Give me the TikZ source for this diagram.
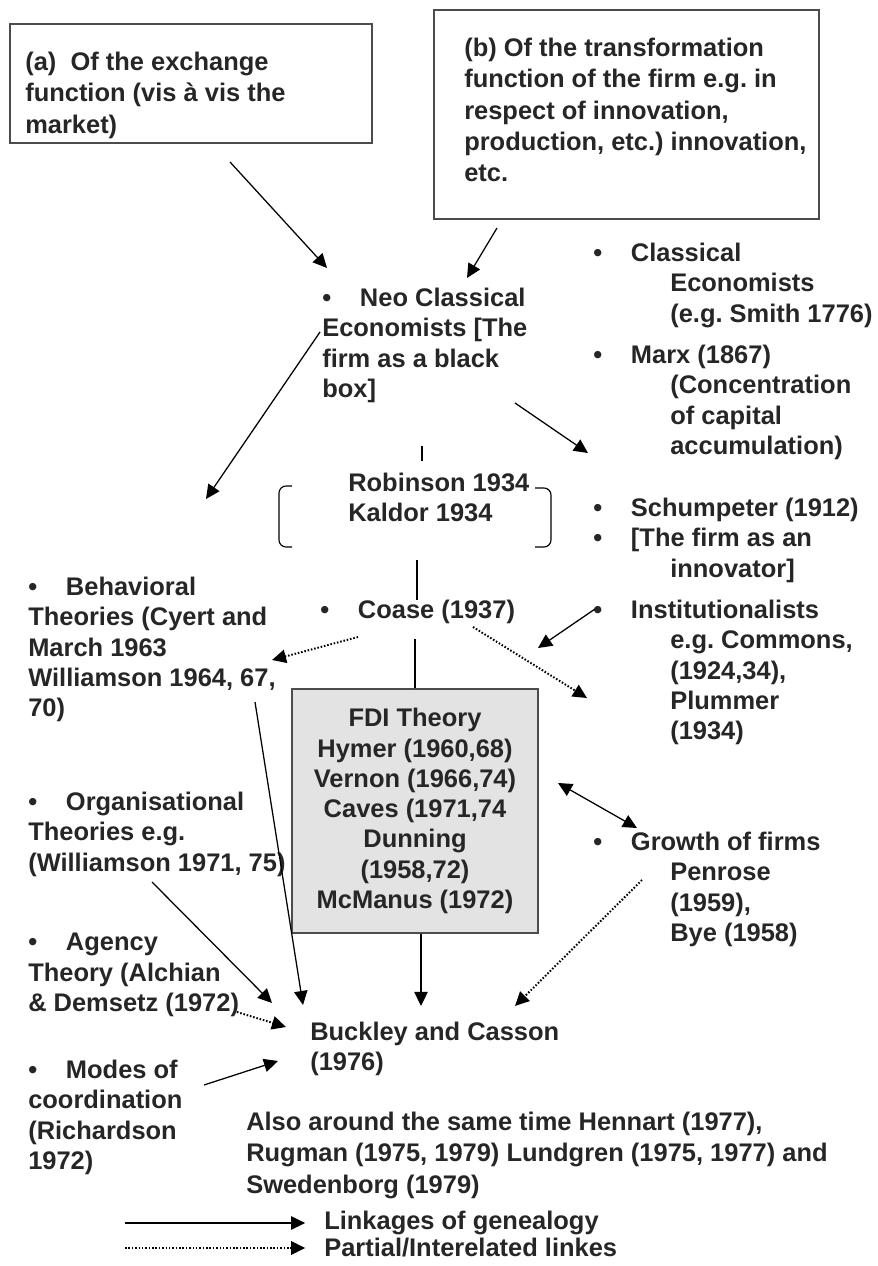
\documentclass[tikz,border=0pt]{standalone}
\usepackage{fontspec}
\setmainfont{Liberation Sans}
\usetikzlibrary{arrows.meta}
\frenchspacing

\newcommand\bodyfnt{\fontsize{18.1}{21.5}\selectfont\bfseries}
\newcommand\boxfnt{\fontsize{18.1}{22.2}\selectfont\bfseries}
\newcommand\bulitem{\textbullet\hspace{0.72cm}}
\newcommand\indcol{\hspace*{1.925cm}}

\tikzset{
  link/.style={line width=0.9pt, -{Triangle[length=10pt,width=9.5pt]}},
  partial/.style={link, line width=1.4pt, dash pattern=on 1.1pt off 1.3pt},
  twoway/.style={line width=0.9pt, {Triangle[length=10pt,width=9.5pt]}-{Triangle[length=10pt,width=9.5pt]}},
  entry/.style={anchor=north west, align=left, inner sep=0pt, font=\bodyfnt, text=black!85},
  frametext/.style={anchor=north west, align=left, inner sep=0pt, font=\boxfnt, text=black!85},
  framebox/.style={draw=black!70, line width=1.2pt, inner sep=0pt},
}

\begin{document}
\begin{tikzpicture}[x=0.025cm, y=-0.025cm]
\useasboundingbox (0,0) rectangle (878,1266);

% two framed boxes at the top
\node[framebox, minimum width=9.05cm, minimum height=2.975cm] (boxa) at (191,83.5) {};
\node[frametext] (boxatxt) at (25,52) {(a)\ \ Of the exchange\\function (vis à vis the\\market)};
\node[framebox, minimum width=9.625cm, minimum height=5.225cm] (boxb) at (626.5,114.5) {};
\node[frametext] (boxbtxt) at (464,38) {(b) Of the transformation\\function of the firm e.g. in\\respect of innovation,\\production, etc.) innovation,\\etc.};

% centre column
\node[entry] (neo) at (322,288) {\bulitem Neo Classical\\Economists [The\\firm as a black\\box]};
\node[entry] (robinson) at (348,473) {Robinson 1934\\Kaldor 1934};
\node[entry] (coase) at (320,600) {\bulitem Coase (1937)};
\node[draw=black!70, line width=1pt, fill=black!11, minimum width=6.15cm, minimum height=6.1cm,
      align=center, font=\bodyfnt, text=black!85, inner sep=0pt] (fdi) at (415,811)
      {FDI Theory\\Hymer (1960,68)\\Vernon (1966,74)\\Caves (1971,74\\Dunning\\(1958,72)\\McManus (1972)};
\node[entry] (buckley) at (310,1022) {Buckley and Casson\\(1976)};

% right column
\node[entry] (classical) at (593,243) {\bulitem Classical\\\indcol Economists\\\indcol (e.g. Smith 1776)};
\node[entry] (marx) at (593,345) {\bulitem Marx (1867)\\\indcol (Concentration\\\indcol of capital\\\indcol accumulation)};
\node[entry] (schump) at (593,498) {\bulitem Schumpeter (1912)\\\bulitem [The firm as an\\\indcol innovator]};
\node[entry] (inst) at (593,600) {\bulitem Institutionalists\\\indcol e.g. Commons,\\\indcol (1924,34),\\\indcol Plummer\\\indcol (1934)};
\node[entry] (growth) at (593,832) {\bulitem Growth of firms\\\indcol Penrose\\\indcol (1959),\\\indcol Bye (1958)};

% left column
\node[entry] (behav) at (28,577) {\bulitem Behavioral\\Theories (Cyert and\\March 1963\\Williamson 1964, 67,\\70)};
\node[entry] (organ) at (28,792) {\bulitem Organisational\\Theories e.g.\\(Williamson 1971, 75)};
\node[entry] (agency) at (28,933) {\bulitem Agency\\Theory (Alchian\\\& Demsetz (1972)};
\node[entry] (modes) at (28,1060) {\bulitem Modes of\\coordination\\(Richardson\\1972)};

\node[frametext] (also) at (246,1112) {Also around the same time Hennart (1977),\\Rugman (1975, 1979) Lundgren (1975, 1977) and\\Swedenborg (1979)};

% legend
\node[entry, anchor=west] (leglink) at (324,1223) {Linkages of genealogy};
\node[entry, anchor=west] (legpart) at (324,1248) {Partial/Interelated linkes};
\coordinate (legA) at (125,1223);
\coordinate (legB) at (125,1248);
\draw[link, shorten >=0.47cm] (legA) -- (leglink.west);
\draw[partial, shorten >=0.47cm] (legB) -- (legpart.west);

% end points of the links
\coordinate (aOut) at (230,162);   \coordinate (neoA) at (327,268);
\coordinate (bOut) at (497,228);   \coordinate (neoB) at (467,278);
\coordinate (neoL) at (320,332);   \coordinate (behTop) at (206,499);
\coordinate (neoR) at (515,403);   \coordinate (marxIn) at (588,453);
\coordinate (coaseL) at (358,637); \coordinate (behIn) at (272,660);
\coordinate (coaseR) at (473,627); \coordinate (instIn) at (587,698);
\coordinate (instOut) at (595,609); \coordinate (instHead) at (538,648);
\coordinate (fdiR) at (558,783);   \coordinate (growthIn) at (637,828);
\coordinate (willOut) at (255,702); \coordinate (organOut) at (152,882);
\coordinate (agencyOut) at (237,1012); \coordinate (modesOut) at (204,1085);
\coordinate (growthOut) at (642,880);
\coordinate (bcA) at (272,1003); \coordinate (bcB) at (303,1005);
\coordinate (bcC) at (421,1006); \coordinate (bcD) at (515,1006);
\coordinate (bcE) at (286,1027); \coordinate (bcF) at (278,1061);

\draw[link] (aOut) -- (neoA);
\draw[link] (bOut) -- (neoB);
\draw[link] (neoL) -- (behTop);
\draw[link] (neoR) -- (marxIn);

% Robinson / Kaldor bracket
\draw[line width=0.8pt] (422,446) -- (422,461);
\draw[line width=0.8pt, rounded corners=5] (292,486) -- (279,486) -- (279,547) -- (292,547);
\draw[line width=0.8pt, rounded corners=5] (535,488) -- (551,488) -- (551,547) -- (535,547);
\draw[line width=0.8pt] (417,560) -- (417,600);
\draw[line width=0.8pt] (fdi.north) -- ++(0,-49);

\draw[partial] (coaseL) -- (behIn);
\draw[partial] (coaseR) -- (instIn);
\draw[link] (instOut) -- (instHead);
\draw[twoway] (fdiR) -- (growthIn);

% into Buckley and Casson
\draw[link] (willOut) -- (bcB);
\draw[link] (organOut) -- (bcA);
\draw[link] (fdi.south -| bcC) -- (bcC);
\draw[partial] (growthOut) -- (bcD);
\draw[partial] (agencyOut) -- (bcE);
\draw[link] (modesOut) -- (bcF);
\end{tikzpicture}
\end{document}
